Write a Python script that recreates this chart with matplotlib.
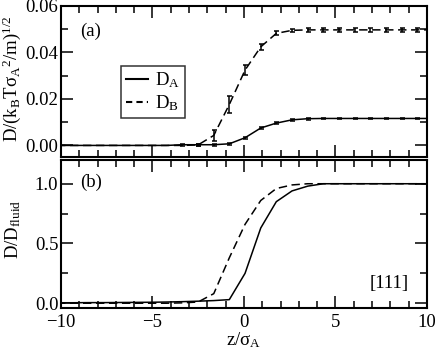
import matplotlib
matplotlib.use("Agg")
import matplotlib.pyplot as plt
from matplotlib.lines import Line2D
from matplotlib.ticker import MultipleLocator, FormatStrFormatter

plt.rcParams['font.family'] = ['Liberation Serif', 'DejaVu Serif']
plt.rcParams['mathtext.fontset'] = 'custom'
plt.rcParams['mathtext.rm'] = 'Liberation Serif'
plt.rcParams['mathtext.it'] = 'Liberation Serif:italic'
plt.rcParams['font.size'] = 13.5

# layer positions z/sigma_A
z = [-10.22, -9.37, -8.51, -7.65, -6.80, -5.94, -5.08, -4.23, -3.37, -2.51,
     -1.65, -0.80, 0.06, 0.92, 1.77, 2.63, 3.49, 4.34, 5.20, 6.06, 6.91,
     7.77, 8.63, 9.48, 10.34]

# panel (a): absolute diffusion coefficients with error bars
DA = [0.0, 0.0, 0.0, 0.0, 0.0, 0.0, 0.0, 0.0, 0.0003, 0.0003,
      0.0003, 0.0007, 0.0033, 0.0075, 0.0096, 0.0110, 0.0115, 0.0116, 0.0116, 0.0116, 0.0116,
      0.0116, 0.0116, 0.0116, 0.0116]
DA_err = [0.0, 0.0, 0.0, 0.0, 0.0, 0.0, 0.0, 0.0, 0.0004, 0.0004,
          0.0004, 0.0004, 0.0005, 0.0005, 0.0004, 0.0004, 0.0004, 0.0004, 0.0004, 0.0004, 0.0004,
          0.0004, 0.0004, 0.0004, 0.0004]
DB = [0.0, 0.0, 0.0, 0.0, 0.0, 0.0, 0.0, 0.0, 0.0, 0.0002,
      0.0043, 0.0176, 0.0324, 0.0424, 0.0482, 0.0495, 0.0497, 0.0497, 0.0497, 0.0497, 0.0497,
      0.0497, 0.0497, 0.0497, 0.0497]
DB_err = [0.0, 0.0, 0.0, 0.0, 0.0, 0.0, 0.0, 0.0, 0.0, 0.0004,
          0.0022, 0.0036, 0.0022, 0.0014, 0.0009, 0.0007, 0.0007, 0.0007, 0.0007, 0.0007, 0.0007,
          0.0007, 0.0007, 0.0007, 0.0007]

# panel (b): normalised by bulk fluid value
DA_norm = [0.004, 0.004, 0.005, 0.005, 0.006, 0.007, 0.008, 0.01, 0.013, 0.017,
           0.022, 0.03, 0.25, 0.63, 0.85, 0.94, 0.98, 1.0, 1.0, 1.0, 1.0,
           1.0, 1.0, 1.0, 1.0]
DB_norm = [0.0, 0.0, 0.0, 0.0, 0.0, 0.0, 0.0, 0.0, 0.003, 0.01,
           0.08, 0.38, 0.66, 0.86, 0.96, 0.99, 1.0, 1.0, 1.0, 1.0, 1.0,
           1.0, 1.0, 1.0, 1.0]

dash = (0, (5.5, 3))
lw = 1.1

fig = plt.figure(figsize=(4.36, 3.49), dpi=100)
ax1 = fig.add_axes([0.14, 0.55, 0.839, 0.433])
ax2 = fig.add_axes([0.14, 0.1175, 0.839, 0.4245])

ax1.errorbar(z, DA, yerr=DA_err, color='black', lw=lw, capsize=1.8, elinewidth=1.1,
             capthick=1.1, errorevery=(8, 1))
ax1.errorbar(z, DB, yerr=DB_err, color='black', lw=lw, ls=dash, capsize=1.8, elinewidth=1.1,
             capthick=1.1, errorevery=(9, 1))

ax2.plot(z, DA_norm, color='black', lw=lw)
ax2.plot(z, DB_norm, color='black', lw=lw, ls=dash)

for ax in (ax1, ax2):
    ax.set_xlim(-10, 10)
    ax.xaxis.set_major_locator(MultipleLocator(5))
    ax.xaxis.set_minor_locator(MultipleLocator(1))
    ax.tick_params(which='both', direction='in', top=True, right=True, width=1.1)
    ax.tick_params(which='major', length=8.5, pad=2)
    ax.tick_params(which='minor', length=5)
    for s in ax.spines.values():
        s.set_linewidth(1.5)

ax1.set_ylim(-0.005, 0.06)
ax1.yaxis.set_major_locator(MultipleLocator(0.02))
ax1.yaxis.set_minor_locator(MultipleLocator(0.01))
ax1.yaxis.set_major_formatter(FormatStrFormatter('%.2f'))
ax1.tick_params(labelbottom=False)
ax1.set_ylabel(r'$\mathrm{D/(k_B T\sigma_A{}^2/m)^{1/2}}$')
ax1.yaxis.set_label_coords(-0.105, 0.52)
ax1.text(0.052, 0.835, '(a)', transform=ax1.transAxes, va='center')
handles = [Line2D([], [], color='black', lw=1.5),
           Line2D([], [], color='black', lw=1.5, ls=(0, (3, 2)))]
leg = ax1.legend(handles, [r'$\mathrm{D_A}$', r'$\mathrm{D_B}$'], loc='upper left',
                 bbox_to_anchor=(0.164, 0.603), frameon=True, fancybox=False,
                 handlelength=1.2, borderpad=0.25, labelspacing=0.15, handletextpad=0.35,
                 borderaxespad=0)
leg.get_frame().set_edgecolor('black')
leg.get_frame().set_linewidth(1.1)

ax2.set_ylim(-0.04, 1.2)
ax2.yaxis.set_major_locator(MultipleLocator(0.5))
ax2.yaxis.set_minor_locator(MultipleLocator(0.25))
ax2.yaxis.set_major_formatter(FormatStrFormatter('%.1f'))
ax2.tick_params(axis='x', pad=4)
ax2.set_ylabel(r'$\mathrm{D/D_{fluid}}$')
ax2.yaxis.set_label_coords(-0.105, 0.53)
ax2.set_xlabel(r'$\mathrm{z/\sigma_A}$', labelpad=0)
ax2.text(0.052, 0.845, '(b)', transform=ax2.transAxes, va='center')
ax2.text(0.844, 0.162, '[111]', transform=ax2.transAxes, va='center')

fig.savefig('out.png', dpi=100)
